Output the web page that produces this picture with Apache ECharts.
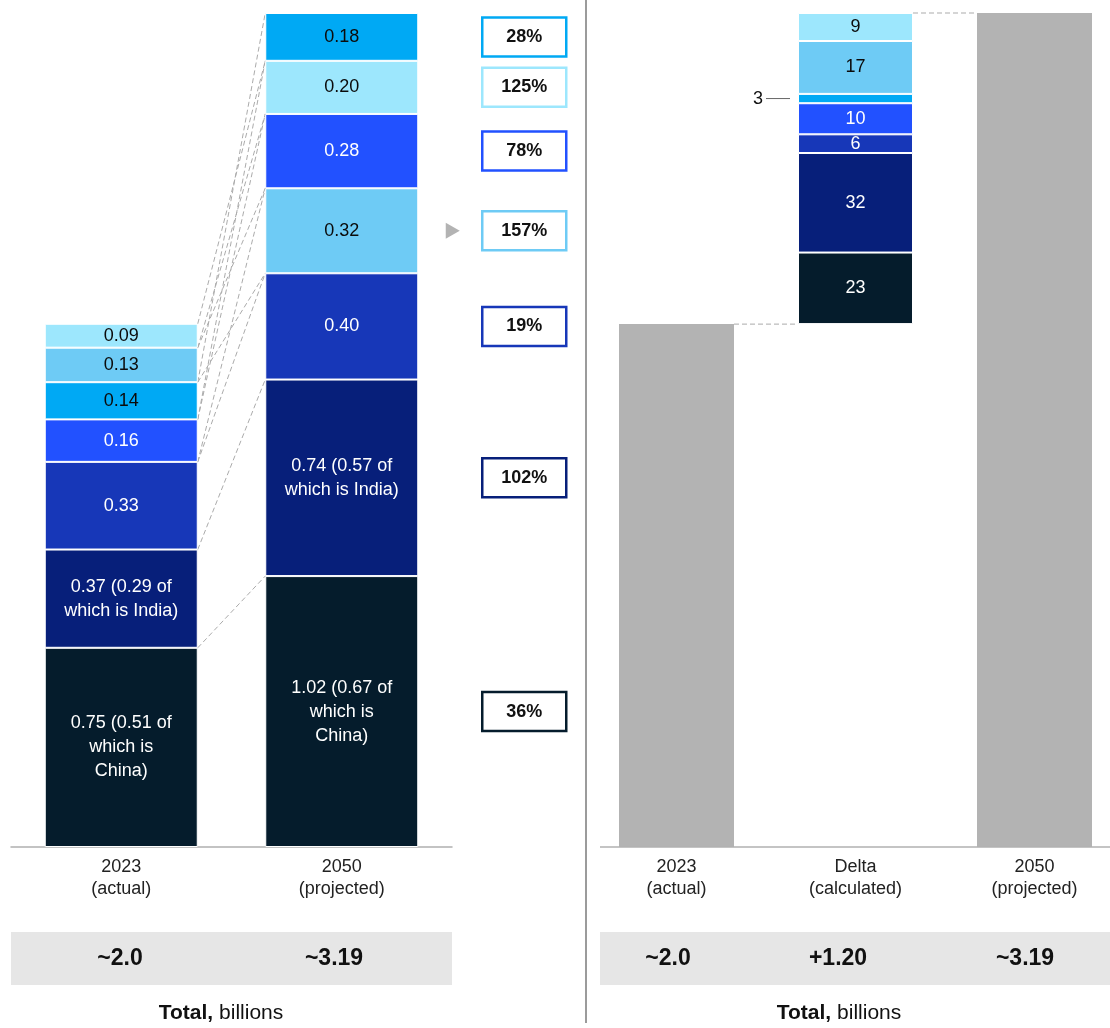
<!DOCTYPE html>
<html>
<head>
<meta charset="utf-8">
<script src="https://cdn.jsdelivr.net/npm/echarts@6/dist/echarts.min.js"></script>
<style>
  html, body { margin: 0; padding: 0; background: #fff; overflow: hidden; }
  #chart { width: 1130px; height: 1028px; }
</style>
</head>
<body>
<div id="chart"></div>
<script>
// Segment colours, darkest (bottom) first
const segmentColors = ['#051c2c', '#071f7a', '#1737b8', '#2251ff', '#00a9f4', '#6ecbf5', '#9de7fd'];
const segmentTextColors = ['#ffffff', '#ffffff', '#ffffff', '#ffffff', '#0b0b0b', '#0b0b0b', '#0b0b0b'];

// Left panel: stacked composition, billions
const yearCategories = ['2023\n(actual)', '2050\n(projected)'];
const values2023 = [0.75, 0.37, 0.33, 0.16, 0.14, 0.13, 0.09];
const values2050 = [1.02, 0.74, 0.40, 0.28, 0.18, 0.32, 0.20];
const labels2023 = ['0.75 (0.51 of\nwhich is\nChina)', '0.37 (0.29 of\nwhich is India)', '0.33', '0.16', '0.14', '0.13', '0.09'];
const labels2050 = ['1.02 (0.67 of\nwhich is\nChina)', '0.74 (0.57 of\nwhich is India)', '0.40', '0.28', '0.18', '0.32', '0.20'];
const growthLabels = ['36%', '102%', '19%', '78%', '28%', '157%', '125%'];
const growthValues = [36, 102, 19, 78, 28, 157, 125];
// stacking order, bottom to top (indices into the value arrays)
const order2023 = [0, 1, 2, 3, 4, 5, 6];
const order2050 = [0, 1, 2, 5, 3, 6, 4];

// Right panel: waterfall, billions; delta split in % of the increase
const waterfallCategories = ['2023\n(actual)', 'Delta\n(calculated)', '2050\n(projected)'];
const totals = [2.0, 3.19];
const deltaShares = [23, 32, 6, 10, 3, 17, 9];
const deltaOrder = [0, 1, 2, 3, 4, 5, 6];

// Summary band
const leftTotalLabels = ['~2.0', '~3.19'];
const rightTotalLabels = ['~2.0', '+1.20', '~3.19'];

const FONT = '"Liberation Sans", Arial, sans-serif';
const LEFT_BAR = 153;
const RIGHT_BAR = 115;

function stackExtents(values, order) {
  const lo = [], hi = [];
  let acc = 0;
  order.forEach(i => { lo[i] = acc; acc += values[i]; hi[i] = acc; });
  return { lo, hi, total: acc };
}
const ext2023 = stackExtents(values2023, order2023);
const ext2050 = stackExtents(values2050, order2050);
const leftMax = Math.max(ext2023.total, ext2050.total);
const deltaAmount = totals[1] - totals[0];
const deltaExt = stackExtents(deltaShares.map(s => s * deltaAmount / 100), deltaOrder);

const chart = echarts.init(document.getElementById('chart'), null, { renderer: 'canvas' });

const labelBase = {
  show: true, position: 'inside', fontFamily: FONT, fontSize: 18, lineHeight: 24,
  formatter: p => (p.data && p.data.text) || ''
};

// Left stacked layers: layer k holds the k-th segment from the bottom of each bar
const leftSeries = [];
for (let k = 0; k < 7; k++) {
  const a = order2023[k], b = order2050[k];
  leftSeries.push({
    type: 'bar', name: 'layer' + k, stack: 'left', xAxisIndex: 0, yAxisIndex: 0,
    barWidth: LEFT_BAR,
    itemStyle: { borderColor: '#ffffff', borderWidth: 1 },
    label: labelBase,
    data: [
      { value: values2023[a], text: labels2023[a], itemStyle: { color: segmentColors[a] }, label: { color: segmentTextColors[a] } },
      { value: values2050[b], text: labels2050[b], itemStyle: { color: segmentColors[b] }, label: { color: segmentTextColors[b] } }
    ]
  });
}

// Dashed connectors between matching segment edges
leftSeries.push({
  type: 'custom', xAxisIndex: 0, yAxisIndex: 0, silent: true, z: 1,
  data: [[0, 0]],
  renderItem: (params, api) => {
    const seen = {};
    const children = [];
    const add = (v1, v2) => {
      const key = v1.toFixed(3) + '|' + v2.toFixed(3);
      if (seen[key]) return;
      seen[key] = true;
      const p1 = api.coord([0, v1]);
      const p2 = api.coord([1, v2]);
      children.push({
        type: 'line',
        shape: { x1: p1[0] + LEFT_BAR / 2, y1: p1[1], x2: p2[0] - LEFT_BAR / 2, y2: p2[1] },
        style: { stroke: '#ababab', lineWidth: 1, lineDash: [5, 3] }
      });
    };
    for (let i = 0; i < 7; i++) {
      add(ext2023.hi[i], ext2050.hi[i]);
      if (ext2023.lo[i] > 0) add(ext2023.lo[i], ext2050.lo[i]);
    }
    return { type: 'group', children };
  }
});

// Growth boxes beside the 2050 bar
const maxGrowth = Math.max(...growthValues);
leftSeries.push({
  type: 'custom', xAxisIndex: 0, yAxisIndex: 0, silent: true, z: 5,
  data: values2050.map((v, i) => [1, (ext2050.lo[i] + ext2050.hi[i]) / 2, i]),
  renderItem: (params, api) => {
    const i = api.value(2);
    const p = api.coord([1, api.value(1)]);
    const cx = p[0] + 182.5;
    const children = [
      { type: 'rect', shape: { x: cx - 42, y: p[1] - 19.5, width: 84, height: 39 },
        style: { fill: '#ffffff', stroke: segmentColors[i], lineWidth: 2.5 } },
      { type: 'text', x: cx, y: p[1],
        style: { text: growthLabels[i], fill: '#111', font: 'bold 18px ' + FONT, align: 'center', verticalAlign: 'middle' } }
    ];
    if (growthValues[i] === maxGrowth) {
      const tx = p[0] + 104;
      children.push({ type: 'polygon', shape: { points: [[tx, p[1] - 8], [tx + 14, p[1]], [tx, p[1] + 8]] },
        style: { fill: '#b3b3b3' } });
    }
    return { type: 'group', children };
  }
});

// Right waterfall
const rightSeries = [];
rightSeries.push({
  type: 'bar', stack: 'wf', xAxisIndex: 1, yAxisIndex: 1, barWidth: RIGHT_BAR,
  itemStyle: { color: '#b3b3b3' },
  data: [totals[0], '-', totals[1]]
});
rightSeries.push({
  type: 'bar', stack: 'wf', xAxisIndex: 1, yAxisIndex: 1, barWidth: RIGHT_BAR,
  itemStyle: { color: 'rgba(0,0,0,0)' }, silent: true,
  data: ['-', totals[0], '-']
});
for (let k = 0; k < 7; k++) {
  const i = deltaOrder[k];
  const share = deltaShares[i];
  rightSeries.push({
    type: 'bar', stack: 'wf', xAxisIndex: 1, yAxisIndex: 1, barWidth: RIGHT_BAR,
    itemStyle: { color: segmentColors[i], borderColor: '#ffffff', borderWidth: 1 },
    label: Object.assign({}, labelBase, { color: segmentTextColors[i], show: share >= 5 }),
    data: ['-', { value: share * deltaAmount / 100, text: String(share) }, '-']
  });
}
// Callout for segments too thin to hold a label
rightSeries.push({
  type: 'custom', xAxisIndex: 1, yAxisIndex: 1, silent: true, z: 5,
  data: deltaShares.map((s, i) => [1, totals[0] + (deltaExt.lo[i] + deltaExt.hi[i]) / 2, i]).filter(d => deltaShares[d[2]] < 5),
  renderItem: (params, api) => {
    const i = api.value(2);
    const p = api.coord([1, api.value(1)]);
    const left = p[0] - RIGHT_BAR / 2;
    return { type: 'group', children: [
      { type: 'line', shape: { x1: left - 32, y1: p[1], x2: left - 8, y2: p[1] }, style: { stroke: '#666', lineWidth: 1 } },
      { type: 'text', x: left - 35, y: p[1], style: { text: String(deltaShares[i]), fill: '#111', font: '18px ' + FONT, align: 'right', verticalAlign: 'middle' } }
    ] };
  }
});
// Dashed steps of the waterfall
rightSeries.push({
  type: 'custom', xAxisIndex: 1, yAxisIndex: 1, silent: true, z: 1,
  data: [[0, 0]],
  renderItem: (params, api) => {
    const a = api.coord([0, totals[0]]), b = api.coord([1, totals[0]]);
    const c = api.coord([1, totals[1]]), d = api.coord([2, totals[1]]);
    const st = { stroke: '#ababab', lineWidth: 1, lineDash: [5, 3] };
    return { type: 'group', children: [
      { type: 'line', shape: { x1: a[0] + RIGHT_BAR / 2, y1: a[1], x2: b[0] - RIGHT_BAR / 2, y2: b[1] }, style: st },
      { type: 'line', shape: { x1: c[0] + RIGHT_BAR / 2, y1: c[1], x2: d[0] - RIGHT_BAR / 2, y2: d[1] }, style: st }
    ] };
  }
});

const axisLabelStyle = { color: '#222', fontFamily: FONT, fontSize: 18, lineHeight: 22, margin: 9, interval: 0 };

const totalText = (x, text) => ({
  type: 'text', x, y: 959,
  style: { text, fill: '#111', font: 'bold 23px ' + FONT, align: 'center', verticalAlign: 'middle' }
});
const captionText = x => ({
  type: 'text', x, y: 1013,
  style: {
    text: '{b|Total,} billions', fill: '#111', font: '21px ' + FONT, align: 'center', verticalAlign: 'middle',
    rich: { b: { fontWeight: 'bold', fontSize: 21, fontFamily: FONT, fill: '#111' } }
  }
});

chart.setOption({
  animation: false,
  backgroundColor: '#ffffff',
  grid: [
    { left: 11, top: 13, width: 441, height: 834 },
    { left: 587, top: 13, width: 537, height: 834 }
  ],
  xAxis: [
    { type: 'category', gridIndex: 0, data: yearCategories,
      axisLine: { lineStyle: { color: '#b0b0b0', width: 1.5 } }, axisTick: { show: false },
      axisLabel: axisLabelStyle },
    { type: 'category', gridIndex: 1, data: waterfallCategories,
      axisLine: { show: false }, axisTick: { show: false },
      axisLabel: axisLabelStyle }
  ],
  yAxis: [
    { type: 'value', gridIndex: 0, min: 0, max: leftMax, show: false, splitLine: { show: false } },
    { type: 'value', gridIndex: 1, min: 0, max: totals[1], show: false, splitLine: { show: false } }
  ],
  series: leftSeries.concat(rightSeries),
  graphic: [
    { type: 'line', shape: { x1: 600, y1: 847, x2: 1110, y2: 847 }, style: { stroke: '#b0b0b0', lineWidth: 1.5 }, z: 10 },
    { type: 'line', shape: { x1: 586, y1: 0, x2: 586, y2: 1023 }, style: { stroke: '#7a7a7a', lineWidth: 1.5 } },
    { type: 'rect', shape: { x: 11, y: 932, width: 441, height: 53 }, style: { fill: '#e6e6e6' } },
    { type: 'rect', shape: { x: 600, y: 932, width: 510, height: 53 }, style: { fill: '#e6e6e6' } },
    totalText(120, leftTotalLabels[0]),
    totalText(334, leftTotalLabels[1]),
    totalText(668, rightTotalLabels[0]),
    totalText(838, rightTotalLabels[1]),
    totalText(1025, rightTotalLabels[2]),
    captionText(221),
    captionText(839)
  ]
});
</script>
</body>
</html>
